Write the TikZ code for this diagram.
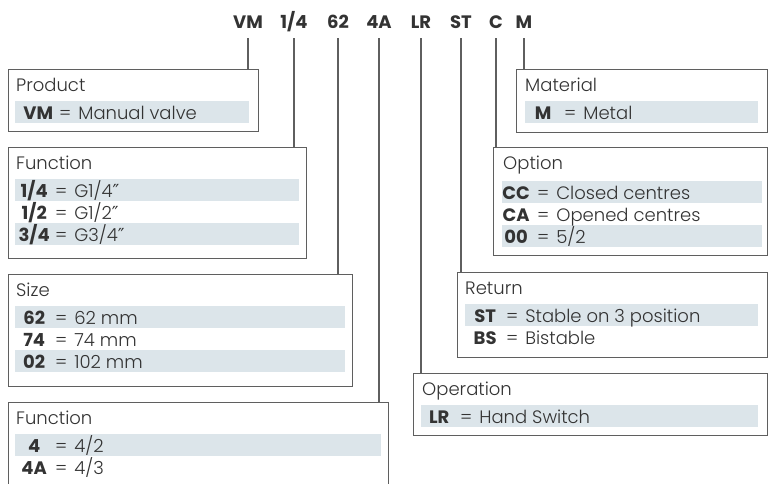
\documentclass[tikz,border=0pt]{standalone}
\usepackage{fontspec}
\setmainfont{Poppins}[UprightFont=* Light,BoldFont=* Bold]
\newfontfamily\primefont{DejaVu Sans}
\definecolor{VText}{RGB}{51,51,51}
\definecolor{VLine}{RGB}{95,95,95}
\definecolor{VBand}{RGB}{220,229,234}
\newcommand{\kv}[2]{\makebox[32pt][c]{\bfseries #1}\hspace{5pt}=\hspace{7pt}#2}
\newcommand{\inch}{{\primefont\fontsize{18}{20}\selectfont ″}}
\tikzset{
  codetag/.style={anchor=base,inner sep=0,text=VText,font=\fontsize{18}{20}\selectfont\bfseries},
  vbox/.style={draw=VLine,line width=1.1pt,anchor=north west,inner sep=0,fill=white},
  band/.style={fill=VBand,anchor=north west,inner sep=0,minimum height=22pt},
  vhead/.style={anchor=base west,inner sep=0,text=VText,font=\fontsize{18}{20}\selectfont},
  vrow/.style={anchor=base west,inner sep=0,text=VText,font=\fontsize{18}{20}\selectfont},
  link/.style={draw=VLine,line width=1.1pt},
}
\begin{document}
\begin{tikzpicture}[x=1pt,y=-1pt]
  \useasboundingbox (0,0) rectangle (771,483);
  \clip (0,0) rectangle (771,483);
  % order code
  \node[codetag] (cvm) at (248,28) {VM};
  \node[codetag] (cfa) at (294,28) {1/4};
  \node[codetag] (csz) at (338,28) {62};
  \node[codetag] (cfb) at (379,28) {4A};
  \node[codetag] (cop) at (421,28) {LR};
  \node[codetag] (cre) at (461,28) {ST};
  \node[codetag] (cot) at (496,28) {C};
  \node[codetag] (cma) at (524,28) {M};
  % left column
  \node[vbox,minimum width=250pt,minimum height=62pt] (prod) at (8,69) {};
  \node[band,minimum width=234pt] (prodb1) at (15,101) {};
  \node[vhead] (prodh) at (16,91) {Product};
  \node[vrow] (prod1) at (22,119) {\kv{VM}{Manual valve}};
  \node[vbox,minimum width=298pt,minimum height=111pt] (fa) at (8,147) {};
  \node[band,minimum width=284pt] (fab1) at (15,179) {};
  \node[band,minimum width=284pt] (fab3) at (15,223) {};
  \node[vhead] (fah) at (16,169) {Function};
  \node[vrow] (fa1) at (18,197) {\kv{1/4}{G1/4\inch}};
  \node[vrow] (fa2) at (18,219) {\kv{1/2}{G1/2\inch}};
  \node[vrow] (fa3) at (18,241) {\kv{3/4}{G3/4\inch}};
  \node[vbox,minimum width=344pt,minimum height=112pt] (sz) at (8,274) {};
  \node[band,minimum width=330pt] (szb1) at (15,306) {};
  \node[band,minimum width=330pt] (szb3) at (15,350) {};
  \node[vhead] (szh) at (16,296) {Size};
  \node[vrow] (sz1) at (18,324) {\kv{62}{62 mm}};
  \node[vrow] (sz2) at (18,346) {\kv{74}{74 mm}};
  \node[vrow] (sz3) at (18,368) {\kv{02}{102 mm}};
  \node[vbox,minimum width=380pt,minimum height=120pt] (fb) at (8,402) {};
  \node[band,minimum width=366pt] (fbb1) at (15,434) {};
  \node[vhead] (fbh) at (16,424) {Function};
  \node[vrow] (fb1) at (18,452) {\kv{4}{4/2}};
  \node[vrow] (fb2) at (18,474) {\kv{4A}{4/3}};
  % right column
  \node[vbox,minimum width=251pt,minimum height=63pt] (ma) at (516,69) {};
  \node[band,minimum width=233pt] (mab1) at (525,101) {};
  \node[vhead] (mah) at (525,91) {Material};
  \node[vrow] (ma1) at (527,119) {\kv{M}{Metal}};
  \node[vbox,minimum width=274pt,minimum height=108pt] (ot) at (493,147) {};
  \node[band,minimum width=260pt] (otb1) at (502,181) {};
  \node[band,minimum width=260pt] (otb3) at (502,225) {};
  \node[vhead] (oth) at (503,169) {Option};
  \node[vrow] (ot1) at (500,199) {\kv{CC}{Closed centres}};
  \node[vrow] (ot2) at (500,221) {\kv{CA}{Opened centres}};
  \node[vrow] (ot3) at (500,243) {\kv{00}{5/2}};
  \node[vbox,minimum width=310pt,minimum height=85pt] (re) at (457,272) {};
  \node[band,minimum width=293pt] (reb1) at (465,304) {};
  \node[vhead] (reh) at (465,294) {Return};
  \node[vrow] (re1) at (469,322) {\kv{ST}{Stable on 3 position}};
  \node[vrow] (re2) at (469,344) {\kv{BS}{Bistable}};
  \node[vbox,minimum width=354pt,minimum height=62pt] (op) at (413,373) {};
  \node[band,minimum width=337pt] (opb1) at (421,405) {};
  \node[vhead] (oph) at (422,395) {Operation};
  \node[vrow] (op1) at (423,423) {\kv{LR}{Hand Switch}};
  % leaders
  \draw[link] ([yshift=-10pt]cvm.base) -- (cvm.base |- prod.north);
  \draw[link] ([yshift=-10pt]cfa.base) -- (cfa.base |- fa.north);
  \draw[link] ([yshift=-10pt]csz.base) -- (csz.base |- sz.north);
  \draw[link] ([yshift=-10pt]cfb.base) -- (cfb.base |- fb.north);
  \draw[link] ([yshift=-10pt]cop.base) -- (cop.base |- op.north);
  \draw[link] ([yshift=-10pt]cre.base) -- (cre.base |- re.north);
  \draw[link] ([yshift=-10pt]cot.base) -- (cot.base |- ot.north);
  \draw[link] ([yshift=-10pt]cma.base) -- (cma.base |- ma.north);
\end{tikzpicture}
\end{document}
